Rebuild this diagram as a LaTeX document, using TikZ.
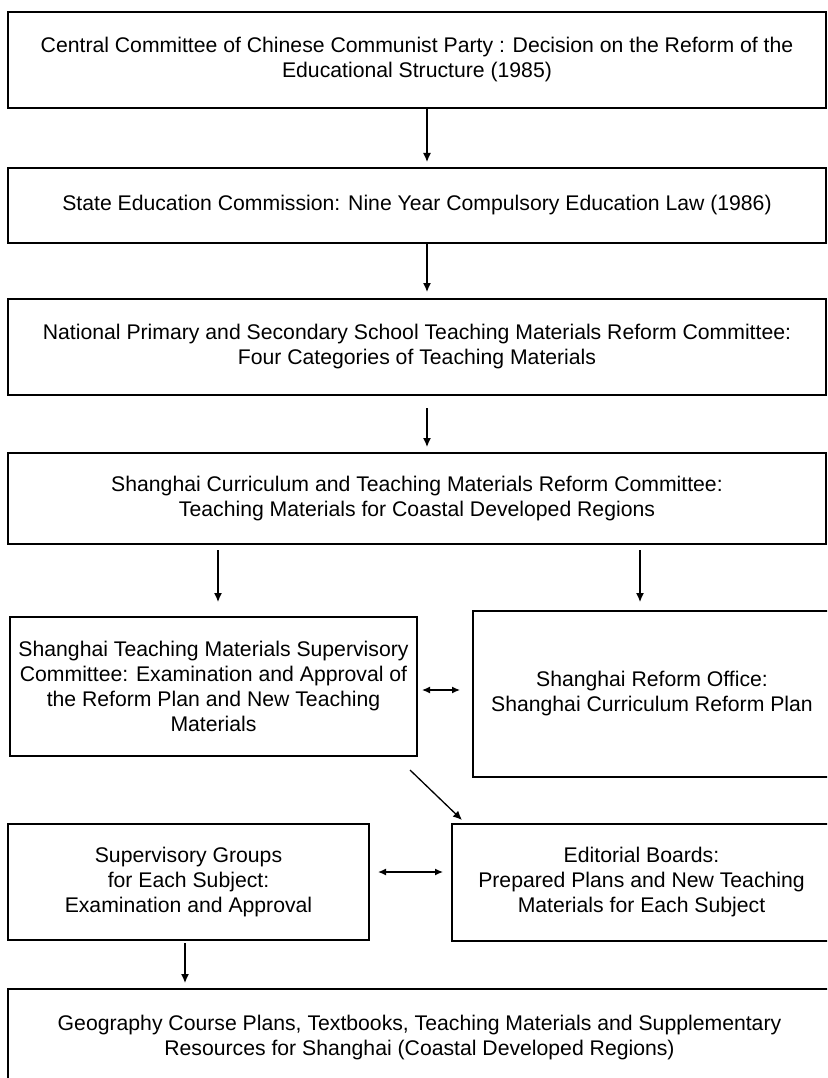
\documentclass[tikz,border=0pt]{standalone}
\usepackage{fontspec}
\setmainfont{Liberation Sans}
\usetikzlibrary{arrows.meta,calc}
\begin{document}
\begin{tikzpicture}[x=1pt,y=-1pt,
  box/.style={draw=black, line width=2.5pt, rectangle, inner sep=0pt, outer sep=0pt,
    align=center, font=\fontsize{21.2}{25}\selectfont},
  arr/.style={line width=1.3pt, -{Latex[length=9pt,width=8pt]}},
  darr/.style={line width=1.3pt, {Latex[length=8pt,width=7pt]}-{Latex[length=8pt,width=7pt]}}]
\useasboundingbox (0,0) rectangle (827,1078);
\clip (0,0) rectangle (827,1078);
\fill[white] (0,0) rectangle (827,1078);
\node[box, minimum width=818, minimum height=96] (b1) at (417,60)
  {Central Committee of Chinese Communist Party : Decision on the Reform of the\\Educational Structure (1985)};
\node[box, minimum width=818, minimum height=75] (b2) at (417,205.5)
  {State Education Commission: Nine Year Compulsory Education Law (1986)};
\node[box, minimum width=818, minimum height=96] (b3) at (417,347)
  {National Primary and Secondary School Teaching Materials Reform Committee:\\Four Categories of Teaching Materials};
\node[box, minimum width=818, minimum height=91] (b4) at (417,498.5)
  {Shanghai Curriculum and Teaching Materials Reform Committee:\\Teaching Materials for Coastal Developed Regions};
\node[box, minimum width=407, minimum height=139] (b5) at (213.5,686.5)
  {Shanghai Teaching Materials Supervisory\\Committee: Examination and Approval of\\the Reform Plan and New Teaching\\Materials};
\node[box, minimum width=358, minimum height=166] (b6) at (652,694)
  {Shanghai Reform Office:\\Shanghai Curriculum Reform Plan};
\node[box, minimum width=361, minimum height=116] (b7) at (188.5,882)
  {Supervisory Groups\\for Each Subject:\\Examination and Approval};
\node[box, minimum width=379, minimum height=117] (b8) at (641.5,882.5)
  {Editorial Boards:\\Prepared Plans and New Teaching\\Materials for Each Subject};
\node[box, minimum width=823, minimum height=98] (b9) at (419.5,1038)
  {Geography Course Plans, Textbooks, Teaching Materials and Supplementary\\Resources for Shanghai (Coastal Developed Regions)};
\coordinate (xa) at (427,0);
\coordinate (xl) at (218,0);
\coordinate (xr) at (640,0);
\coordinate (xb) at (185,0);
\coordinate (ya) at (0,690);
\coordinate (yb) at (0,872);
\coordinate (d1) at (410,770);
\draw[arr, shorten >=6pt] (b1.south -| xa) -- (b2.north -| xa);
\draw[arr, shorten >=7pt] (b2.south -| xa) -- (b3.north -| xa);
\draw[arr, shorten <=13pt, shorten >=6pt] (b3.south -| xa) -- (b4.north -| xa);
\draw[arr, shorten <=6pt, shorten >=15pt] (b4.south -| xl) -- (b5.north -| xl);
\draw[arr, shorten <=6pt, shorten >=9pt] (b4.south -| xr) -- (b6.north -| xr);
\draw[darr, shorten <=5pt, shorten >=13pt] (b5.east |- ya) -- (b6.west |- ya);
\draw[arr] (d1) -- ($(b8.north west)+(10,-4)$);
\draw[darr, shorten <=9pt, shorten >=9pt] (b7.east |- yb) -- (b8.west |- yb);
\draw[arr, shorten <=3pt, shorten >=6pt] (b7.south -| xb) -- (b9.north -| xb);
\end{tikzpicture}
\end{document}
